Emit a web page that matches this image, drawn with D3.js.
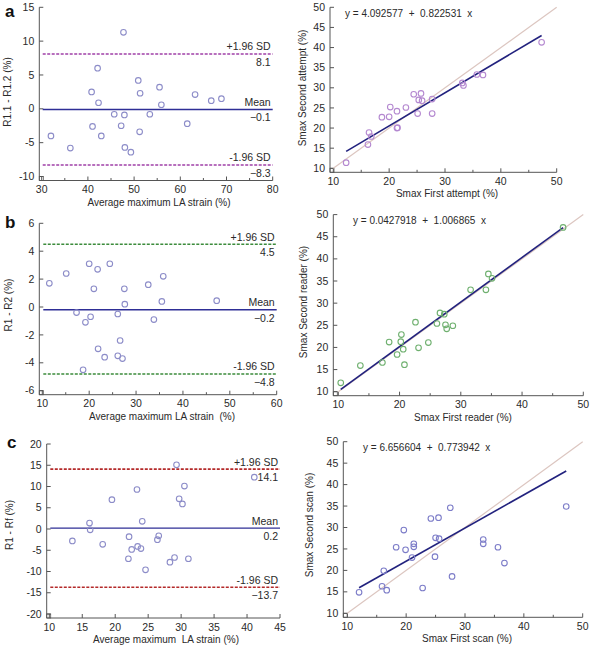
<!DOCTYPE html>
<html><head><meta charset="utf-8">
<script src="https://cdn.jsdelivr.net/npm/d3@7"></script>
<style>
html,body{margin:0;padding:0;background:#fff;}
svg{display:block;font-family:"Liberation Sans",Arial,sans-serif;}
</style></head>
<body><svg id="c" width="591" height="647"></svg>
<script>
// ---------- DATA ----------
// Panel a (left): Bland-Altman, intra-observer
const aMean = [47.7,42.1,40.8,42.3,50.9,51.3,55.5,55.9,63.2,66.7,68.9,45.7,47.9,53.4,41.0,47.2,42.9,51.2,61.5,32.0,36.2,48.0,49.3];
const aDiff = [11.3,6.0,2.5,0.9,4.2,2.3,3.2,0.6,2.1,1.2,1.5,-0.8,-0.9,-0.8,-2.6,-2.5,-4.0,-3.4,-2.2,-4.0,-5.8,-5.7,-6.4];
const aLimits = {mean:-0.1, upper:8.1, lower:-8.3};
// Panel a (right): regression
const aFirst  = [12.3,16.2,16.4,16.8,18.7,20.0,20.2,21.4,21.5,21.4,23.0,24.4,25.1,25.3,25.7,25.9,27.7,27.7,33.1,33.3,35.7,36.8,47.3];
const aSecond = [11.4,15.9,18.9,17.9,22.7,22.8,25.2,24.2,20.1,20.0,25.1,28.4,23.6,27.0,28.6,26.8,23.6,27.2,31.2,30.6,33.3,33.2,41.3];
const aFit = [4.092577, 0.822531];
// Panel b (left)
const bMean = [11.5,15.1,20.0,21.8,24.4,21.0,27.5,32.6,35.8,27.6,35.5,47.2,17.3,20.3,19.2,26.1,33.8,26.6,21.9,23.3,26.1,27.1,18.7];
const bDiff = [1.7,2.4,3.1,2.7,3.1,1.3,1.3,1.6,2.2,0.2,0.4,0.45,-0.4,-0.7,-1.1,-0.5,-0.9,-2.4,-3.0,-3.6,-3.5,-3.7,-4.5];
const bLimits = {mean:-0.2, upper:4.5, lower:-4.8};
// Panel b (right)
const bFirst  = [10.4,13.6,17.2,18.3,19.6,20.2,20.3,20.6,20.8,22.6,23.1,24.7,26.1,26.6,27.3,27.5,27.7,28.7,31.6,34.1,34.5,35.1,46.7];
const bSecond = [12.0,15.9,16.6,21.2,18.4,21.3,22.9,19.6,16.1,25.7,19.9,21.1,25.4,27.8,27.5,25.1,24.2,24.9,33.0,33.0,36.6,35.6,47.1];
const bFit = [0.0427918, 1.006865];
// Panel c (left)
const cMean = [29.3,41.1,23.3,30.5,29.7,30.2,19.5,24.1,16.1,16.2,13.5,18.1,22.1,23.4,23.9,22.5,26.4,26.6,22.0,24.6,28.3,29.0,31.1];
const cDiff = [15.1,12.2,9.3,10.1,7.1,5.9,6.9,1.8,1.4,-0.2,-2.8,-3.6,-1.8,-4.1,-4.6,-4.8,-2.5,-1.6,-7.0,-9.6,-7.8,-6.7,-7.0];
const cLimits = {mean:0.2, upper:14.1, lower:-13.7};
// Panel c (right)
const cFirst  = [12.0,15.9,16.2,16.7,18.3,19.6,19.9,21.0,21.3,21.3,22.8,24.2,24.9,25.0,25.5,25.6,27.5,27.8,33.1,33.1,35.6,36.7,47.2];
const cSecond = [14.9,16.3,19.9,15.4,25.4,29.4,24.8,23.0,26.2,25.5,15.9,32.1,23.2,27.6,32.3,27.4,34.6,18.6,27.2,26.2,25.4,21.7,34.9];
const cFit = [6.656604, 0.773942];

// ---------- DRAW ----------
const svg = d3.select("#c");
const AX = "#555", TX = "#2a2a2a", FS = 10;

function axes(g, p, xs, ys, xTicks, yTicks, xMinor){
  const yAxX = p.x0 - p.off, xAxY = p.y0 + 4;
  g.append("line").attr("x1",yAxX).attr("x2",yAxX).attr("y1",ys.range()[1]).attr("y2",xAxY).attr("stroke",AX);
  g.append("line").attr("x1",yAxX).attr("x2",xs.range()[1]).attr("y1",xAxY).attr("y2",xAxY).attr("stroke",AX);
  g.append("rect").attr("x",yAxX).attr("y",xAxY-4).attr("width",4).attr("height",4).attr("fill","none").attr("stroke",AX).attr("stroke-width",0.8);
  yTicks.forEach(t=>{
    g.append("line").attr("x1",yAxX).attr("x2",yAxX+4).attr("y1",ys(t)).attr("y2",ys(t)).attr("stroke",AX);
    g.append("text").attr("x",yAxX-5).attr("y",ys(t)+3.6).attr("text-anchor","end").attr("font-size",FS+0.5).attr("fill",TX).text(t);
  });
  xTicks.forEach(t=>{
    g.append("line").attr("x1",xs(t)).attr("x2",xs(t)).attr("y1",xAxY).attr("y2",xAxY-4).attr("stroke",AX);
    g.append("text").attr("x",xs(t)).attr("y",xAxY+12.5).attr("text-anchor","middle").attr("font-size",FS+0.5).attr("fill",TX).text(t);
  });
  (xMinor||[]).forEach(t=>{
    g.append("line").attr("x1",xs(t)).attr("x2",xs(t)).attr("y1",xAxY).attr("y2",xAxY-2.5).attr("stroke",AX);
  });
  return xAxY;
}

function titles(g, xAxY, xt, yt){
  g.append("text").attr("x",xt[0]).attr("y",xAxY+25).attr("text-anchor","middle").attr("font-size",FS).attr("fill",TX).style("white-space","pre").text(xt[1]);
  g.append("text").attr("transform",`translate(${yt[0]},${yt[1]}) rotate(-90)`).attr("text-anchor","middle").attr("font-size",FS).attr("fill",TX).text(yt[2]);
}

function bland(p, xd, yd, lim, col, sdCol, xTicks, yTicks, xMinor, xt, yt){
  const g = svg.append("g");
  const xs = d3.scaleLinear().domain(p.xd).range([p.x0,p.x1]);
  const ys = d3.scaleLinear().domain(p.yd).range([p.y0,p.y1]);
  const xAxY = axes(g,p,xs,ys,xTicks,yTicks,xMinor);
  const L = p.x0 + 1, R = p.x1;
  [["+1.96 SD",lim.upper,true],["-1.96 SD",lim.lower,true],["Mean",lim.mean,false]].forEach(([lab,v,dash])=>{
    g.append("line").attr("x1",L).attr("x2",R).attr("y1",ys(v)).attr("y2",ys(v))
      .attr("stroke",dash?sdCol:"#2e2e96").attr("stroke-width",dash?1.6:1.4)
      .attr("stroke-dasharray",dash?"3,1.5":null);
    g.append("text").attr("x",R-2).attr("y",ys(v)-3.5).attr("text-anchor","end").attr("font-size",FS+0.5).attr("fill",TX).text(lab);
    g.append("text").attr("x",R-2).attr("y",ys(v)+12).attr("text-anchor","end").attr("font-size",FS+0.5).attr("fill",TX).text(d3.format(".1f")(v));
  });
  g.selectAll("circle.p").data(xd.map((x,i)=>[x,yd[i]])).join("circle")
    .attr("cx",d=>xs(d[0])).attr("cy",d=>ys(d[1])).attr("r",2.8)
    .attr("fill","none").attr("stroke",col).attr("stroke-width",1.1);
  titles(g,xAxY,xt,yt);
}

function regr(p, xd, yd, fit, col, xTicks, yTicks, xMinor, xt, yt, eq){
  const g = svg.append("g");
  const xs = d3.scaleLinear().domain(p.xd).range([p.x0,p.x1]);
  const ys = d3.scaleLinear().domain(p.yd).range([p.y0,p.y1]);
  const xAxY = axes(g,p,xs,ys,xTicks,yTicks,xMinor);
  g.append("line").attr("x1",xs(p.xd[0])).attr("y1",ys(p.xd[0])).attr("x2",xs(p.xd[1])).attr("y2",ys(p.xd[1]))
    .attr("stroke","#dcc6c0").attr("stroke-width",1.2);
  const xmin = d3.min(xd), xmax = d3.max(xd);
  g.append("line").attr("x1",xs(xmin)).attr("y1",ys(fit[0]+fit[1]*xmin)).attr("x2",xs(xmax)).attr("y2",ys(fit[0]+fit[1]*xmax))
    .attr("stroke","#22227e").attr("stroke-width",1.6);
  g.selectAll("circle.p").data(xd.map((x,i)=>[x,yd[i]])).join("circle")
    .attr("cx",d=>xs(d[0])).attr("cy",d=>ys(d[1])).attr("r",2.8)
    .attr("fill","none").attr("stroke",col).attr("stroke-width",1.1);
  g.append("text").attr("x",eq[0]).attr("y",eq[1]).attr("font-size",FS).attr("fill",TX)
    .style("white-space","pre").text(`y = ${fit[0]}  +  ${fit[1]}  x`);
  titles(g,xAxY,xt,yt);
}

const r10 = (a,b,s)=>d3.range(a,b+s/2,s);

// panel a
bland({xd:[30,80],x0:41.7,x1:272.7,yd:[-10,15],y0:176.5,y1:7.3,off:2.4},
  aMean,aDiff,aLimits,"#8c8cc8","#a040a8",r10(30,80,10),r10(-10,15,5),r10(35,75,10),
  [159,"Average maximum LA strain (%)"],[11,92,"R1.1 - R1.2 (%)"]);
regr({xd:[10,50],x0:333.3,x1:556.7,yd:[10,50],y0:168.3,y1:7.3,off:3.3},
  aFirst,aSecond,aFit,"#b488d0",r10(10,50,10),r10(10,50,5),r10(15,45,10),
  [447,"Smax First attempt (%)"],[306,88,"Smax Second attempt (%)"],[345,17]);
// panel b
bland({xd:[10,60],x0:42.3,x1:276.7,yd:[-6,6],y0:390.7,y1:223.3,off:3},
  bMean,bDiff,bLimits,"#8c8cc8","#3c8c3c",r10(10,60,10),r10(-6,6,2),r10(15,55,10),
  [162,"Average maximum LA strain  (%)"],[12,305,"R1 - R2 (%)"]);
regr({xd:[10,50],x0:338.3,x1:583.3,yd:[10,50],y0:391.7,y1:214.6,off:5},
  bFirst,bSecond,bFit,"#6fb06f",r10(10,50,10),r10(10,50,5),r10(15,45,10),
  [463,"Smax First reader (%)"],[307,302,"Smax Second reader (%)"],[353,224]);
// panel c
bland({xd:[10,45],x0:49.3,x1:280,yd:[-20,20],y0:614,y1:444,off:2.6},
  cMean,cDiff,cLimits,"#8c8cc8","#b42a2a",r10(10,45,5),r10(-20,20,5),null,
  [166,"Average maximum  LA strain (%)"],[13,525,"R1 - Rf (%)"]);
regr({xd:[10,50],x0:347.3,x1:582.7,yd:[10,50],y0:613.3,y1:441.7,off:4},
  cFirst,cSecond,cFit,"#7c7cc8",r10(10,50,10),r10(10,50,5),r10(15,45,10),
  [467,"Smax First scan (%)"],[313,525,"Smax Second scan (%)"],[363,451]);

// panel letters
[["a",5,17],["b",5,228],["c",7,448]].forEach(([t,x,y])=>{
  svg.append("text").attr("x",x).attr("y",y).attr("font-size",17).attr("font-weight","bold").attr("fill","#111").text(t);
});
</script></body></html>
